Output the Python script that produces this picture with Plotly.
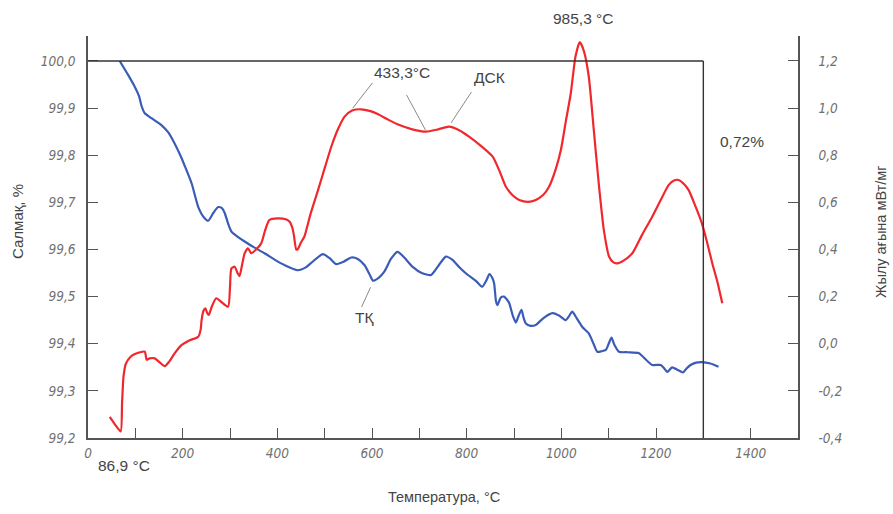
import plotly.graph_objects as go

# ---- data ----
tg_temp = [67, 85, 99, 108, 113, 120, 135, 155, 170, 183, 195, 205, 219, 233, 245, 254, 265, 275, 283, 289,
           296, 303, 315, 331, 350, 373, 395, 415, 443, 460, 471, 496, 510, 524, 540, 556, 570, 584, 595, 602,
           614, 626, 640, 654, 668, 686, 705, 725, 740, 756, 770, 784, 800, 820, 833, 842, 848, 854, 858, 862,
           865, 872, 879, 885, 890, 898, 904, 910, 916, 920, 925, 935, 946, 963, 981, 995, 1009, 1016, 1023, 1032,
           1044, 1058, 1068, 1076, 1085, 1094, 1100, 1106, 1112, 1122, 1140, 1164, 1180, 1192, 1210, 1218, 1224,
           1234, 1245, 1257, 1265, 1273, 1285, 1297, 1315, 1332]
tg_mass = [100.0, 99.97, 99.945, 99.925, 99.905, 99.889, 99.878, 99.864, 99.848, 99.825, 99.80, 99.776, 99.74,
           99.69, 99.668, 99.661, 99.678, 99.69, 99.688, 99.677, 99.655, 99.638, 99.628, 99.617, 99.605, 99.592,
           99.578, 99.567, 99.556, 99.562, 99.571, 99.59, 99.582, 99.569, 99.574, 99.583, 99.58, 99.567, 99.547,
           99.534, 99.54, 99.553, 99.58, 99.595, 99.583, 99.563, 99.55, 99.546, 99.565, 99.585, 99.578, 99.563,
           99.548, 99.533, 99.521, 99.535, 99.548, 99.54, 99.528, 99.49, 99.482, 99.498, 99.50, 99.494, 99.486,
           99.458, 99.445, 99.46, 99.472, 99.456, 99.443, 99.438, 99.44, 99.455, 99.465, 99.46, 99.45, 99.458,
           99.468, 99.455, 99.436, 99.422, 99.40, 99.383, 99.384, 99.387, 99.40, 99.413, 99.398, 99.383, 99.382,
           99.38, 99.365, 99.355, 99.355, 99.347, 99.34, 99.35, 99.345, 99.339, 99.348, 99.355, 99.36, 99.361,
           99.358, 99.351]

dsc_temp = [46, 58, 69, 72, 75, 80, 90, 99, 110, 120, 124, 130, 141, 152, 162, 172, 183, 198, 215, 233, 238,
            240, 244, 248, 252, 255, 262, 271, 283, 296, 300, 303, 310, 316, 320, 326, 331, 338, 345, 355, 366,
            374, 383, 401, 418, 426, 432, 435, 440, 443, 450, 457, 470, 486, 500, 514, 528, 542, 558, 577, 595,
            612, 635, 658, 685, 714, 740, 763, 785, 805, 830, 855, 870, 883, 897, 911, 930, 946, 962, 974, 988,
            999, 1010, 1020, 1030, 1039, 1048, 1058, 1068, 1079, 1090, 1101, 1110, 1118, 1133, 1150, 1170, 1192,
            1210, 1227, 1238, 1248, 1258, 1269, 1283, 1297, 1308, 1319, 1330, 1340]
dsc_flow = [-0.31, -0.345, -0.372, -0.25, -0.14, -0.085, -0.055, -0.044, -0.036, -0.034, -0.068, -0.062, -0.062,
            -0.08, -0.095, -0.075, -0.041, -0.005, 0.015, 0.03, 0.06, 0.10, 0.14, 0.15, 0.13, 0.122, 0.16, 0.193,
            0.175, 0.157, 0.24, 0.32, 0.327, 0.30, 0.287, 0.34, 0.384, 0.405, 0.384, 0.40, 0.426, 0.48, 0.525,
            0.532, 0.528, 0.518, 0.49, 0.46, 0.40, 0.401, 0.43, 0.454, 0.55, 0.652, 0.745, 0.836, 0.91, 0.964,
            0.99, 0.995, 0.988, 0.975, 0.95, 0.928, 0.91, 0.90, 0.91, 0.921, 0.905, 0.879, 0.84, 0.794, 0.73,
            0.666, 0.63, 0.61, 0.602, 0.61, 0.632, 0.666, 0.74, 0.822, 0.95, 1.063, 1.22, 1.28, 1.24, 1.133, 0.92,
            0.681, 0.48, 0.369, 0.345, 0.341, 0.355, 0.384, 0.46, 0.539, 0.61, 0.674, 0.693, 0.695, 0.68, 0.652,
            0.585, 0.511, 0.43, 0.341, 0.26, 0.172]

x_tickvals = list(range(0, 1500, 100))
x_ticktext = ["0", "", "200", "", "400", "", "600", "", "800", "", "1000", "", "1200", "", "1400"]
y1_tickvals = [99.2, 99.3, 99.4, 99.5, 99.6, 99.7, 99.8, 99.9, 100.0]
y1_ticktext = ["99,2", "99,3", "99,4", "99,5", "99,6", "99,7", "99,8", "99,9", "100,0"]
y2_tickvals = [-0.4, -0.2, 0.0, 0.2, 0.4, 0.6, 0.8, 1.0, 1.2]
y2_ticktext = ["-0,4", "-0,2", "0,0", "0,2", "0,4", "0,6", "0,8", "1,0", "1,2"]


def ital(labels):
    return ["<i>%s</i>" % t if t else "" for t in labels]


# ---- figure ----
BLUE = "#3b5cb6"
RED = "#f0282d"
AX = "#555555"
TXT = "#444444"
tickfont = dict(family="DejaVu Sans Condensed, DejaVu Sans", size=13.5, color="#6f6f6f")
annfont = dict(family="Liberation Sans, Arial", size=15.5, color=TXT)

fig = go.Figure()
fig.add_trace(go.Scatter(x=tg_temp, y=tg_mass, mode="lines", yaxis="y",
                         line=dict(color=BLUE, width=2.2, shape="spline", smoothing=0.6),
                         hoverinfo="skip", showlegend=False))
fig.add_trace(go.Scatter(x=dsc_temp, y=dsc_flow, mode="lines", yaxis="y2",
                         line=dict(color=RED, width=2.2, shape="spline", smoothing=0.6),
                         hoverinfo="skip", showlegend=False))

Y1_RANGE = [99.2, 100.053]
Y2_RANGE = [-0.4, 1.306]

fig.update_layout(
    width=893, height=514,
    margin=dict(l=88, r=95, t=36, b=76),
    paper_bgcolor="white", plot_bgcolor="white",
    showlegend=False,
    xaxis=dict(range=[0, 1500], tickvals=x_tickvals, ticktext=ital(x_ticktext), ticks="inside", ticklen=10,
               tickcolor=AX, tickwidth=1.2, showline=True, linecolor=AX, linewidth=1.5, showgrid=False,
               zeroline=False, tickfont=tickfont, ticklabelstandoff=2),
    yaxis=dict(range=Y1_RANGE, tickvals=y1_tickvals, ticktext=ital(y1_ticktext), ticks="inside", ticklen=10,
               tickcolor=AX, tickwidth=1.2, showline=True, linecolor=AX, linewidth=1.5, showgrid=False,
               zeroline=False, tickfont=tickfont, ticklabelstandoff=8),
    yaxis2=dict(range=Y2_RANGE, tickvals=y2_tickvals, ticktext=ital(y2_ticktext), ticks="inside", ticklen=10,
                tickcolor=AX, tickwidth=1.2, showline=True, linecolor=AX, linewidth=1.5, showgrid=False,
                zeroline=False, tickfont=tickfont, overlaying="y", side="right", ticklabelstandoff=16),
)

# box lines at 100 % and 1300 °C
fig.add_shape(type="line", xref="x", yref="y", x0=0, x1=1300, y0=100.0, y1=100.0,
              line=dict(color="#333333", width=1.4))
fig.add_shape(type="line", xref="x", yref="y", x0=1300, x1=1300, y0=99.2, y1=100.0,
              line=dict(color="#333333", width=1.4))

# leader lines
lead = dict(color="#8a8a8a", width=1)
fig.add_shape(type="line", xref="x", yref="y2", x0=601, y0=1.107, x1=559, y1=0.999, line=lead)
fig.add_shape(type="line", xref="x", yref="y2", x0=673, y0=1.056, x1=713, y1=0.907, line=lead)
fig.add_shape(type="line", xref="x", yref="y2", x0=810, y0=1.068, x1=767, y1=0.937, line=lead)
fig.add_shape(type="line", xref="x", yref="y", x0=597, y0=99.520, x1=578, y1=99.478, line=lead)


def px_x(px):
    return (px - 88) / 710.0


def px_y(py):
    return (438 - py) / 402.0


labels = [
    ("985,3 °C", 583, 18),
    ("433,3°C", 402, 72),
    ("ДСК", 489, 78),
    ("0,72%", 742, 141),
    ("ТҚ", 364, 317),
    ("86,9 °C", 124, 465),
]
for text, px, py in labels:
    fig.add_annotation(text=text, xref="paper", yref="paper", x=px_x(px), y=px_y(py),
                       showarrow=False, font=annfont, xanchor="center", yanchor="middle")

titlefont = dict(family="Liberation Sans, Arial", size=14.5, color=TXT)
fig.add_annotation(text="Температура, °C", xref="paper", yref="paper", x=px_x(444), y=px_y(497),
                   showarrow=False, font=titlefont, xanchor="center", yanchor="middle")
fig.add_annotation(text="Салмақ, %", xref="paper", yref="paper", x=px_x(17), y=px_y(222),
                   showarrow=False, font=dict(titlefont, size=15), textangle=-90,
                   xanchor="center", yanchor="middle")
fig.add_annotation(text="Жылу ағына мВт/мг", xref="paper", yref="paper", x=px_x(881), y=px_y(232),
                   showarrow=False, font=titlefont, textangle=-90, xanchor="center", yanchor="middle")

fig.write_html("out.html", config={"displayModeBar": False},
               post_script="document.body.style.margin='0';document.body.style.padding='0';")
